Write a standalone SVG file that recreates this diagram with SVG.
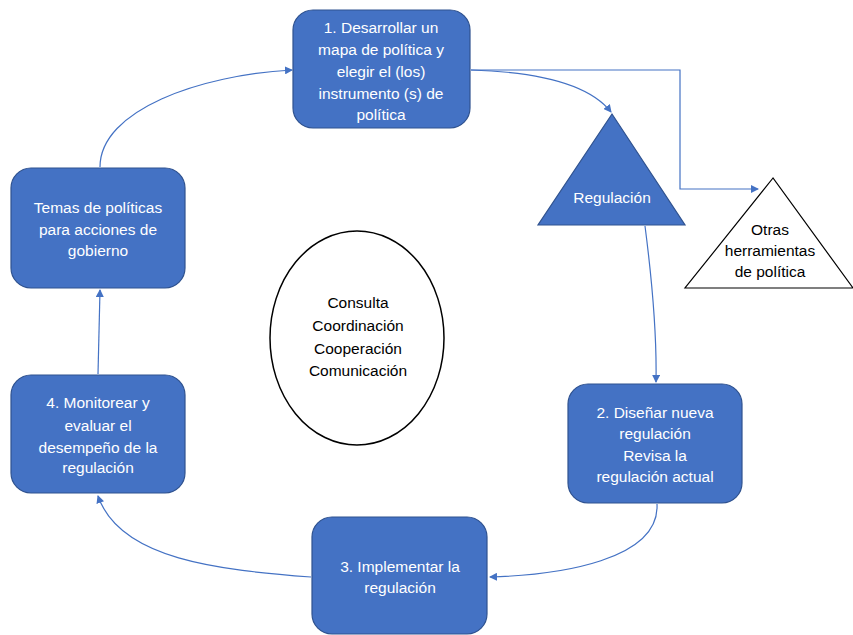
<svg xmlns="http://www.w3.org/2000/svg" width="853" height="635" viewBox="0 0 853 635">
<defs>
<style>
.box{fill:#4472C4;stroke:#2F528F;stroke-width:1.2}
.tw{fill:#fff;font-family:"Liberation Sans",Arial,sans-serif;font-size:15.5px;text-anchor:middle}
.tb{fill:#000;font-family:"Liberation Sans",Arial,sans-serif;font-size:15.5px;text-anchor:middle}
.con{fill:none;stroke:#4472C4;stroke-width:1.2}
</style>
<marker id="ah" markerWidth="8" markerHeight="8" refX="7" refY="4" orient="auto" markerUnits="userSpaceOnUse">
<path d="M0,0 L8,4 L0,8 z" fill="#4472C4"/>
</marker>
</defs>
<rect width="853" height="635" fill="#fff"/>
<g id="connectors">
<path class="con" d="M471,70 C540,72 590,85 611,112" marker-end="url(#ah)"/>
<path class="con" d="M471,70 L680,70 L680,189 L758,189" marker-end="url(#ah)"/>
<path class="con" d="M645,226 C652,280 657,330 656,382" marker-end="url(#ah)"/>
<path class="con" d="M657,504 C660,560 560,575 490,577" marker-end="url(#ah)"/>
<path class="con" d="M311,577 C220,570 120,560 98,496" marker-end="url(#ah)"/>
<path class="con" d="M98,374 L100,290" marker-end="url(#ah)"/>
<path class="con" d="M100,167 C100,110 200,75 292,70" marker-end="url(#ah)"/>
</g>
<g id="n1">
<rect class="box" x="293" y="10" width="177" height="118" rx="20"/>
<text class="tw" x="381" y="33">1. Desarrollar un</text>
<text class="tw" x="381" y="55">mapa de política y</text>
<text class="tw" x="381" y="77">elegir el (los)</text>
<text class="tw" x="381" y="99">instrumento  (s) de</text>
<text class="tw" x="381" y="120">política</text>
</g>
<g id="regulacion">
<polygon class="box" points="612,114 538,225 685,225"/>
<text class="tw" x="612" y="203">Regulación</text>
</g>
<g id="otras">
<polygon points="773,178 685,288 853,288" fill="#fff" stroke="#000" stroke-width="1.2"/>
<text class="tb" x="770" y="235">Otras</text>
<text class="tb" x="770" y="256">herramientas</text>
<text class="tb" x="770" y="277">de política</text>
</g>
<g id="n2">
<rect class="box" x="568" y="384" width="174" height="119" rx="20"/>
<text class="tw" x="655" y="418">2. Diseñar nueva</text>
<text class="tw" x="655" y="439">regulación</text>
<text class="tw" x="655" y="461">Revisa la</text>
<text class="tw" x="655" y="482">regulación  actual</text>
</g>
<g id="n3">
<rect class="box" x="312" y="517" width="175" height="117" rx="20"/>
<text class="tw" x="400" y="572">3. Implementar  la</text>
<text class="tw" x="400" y="593">regulación</text>
</g>
<g id="n4">
<rect class="box" x="11" y="375" width="174" height="118" rx="20"/>
<text class="tw" x="98" y="408">4. Monitorear y</text>
<text class="tw" x="98" y="431">evaluar  el</text>
<text class="tw" x="98" y="453">desempeño de la</text>
<text class="tw" x="98" y="473">regulación</text>
</g>
<g id="temas">
<rect class="box" x="11" y="168" width="174" height="120" rx="20"/>
<text class="tw" x="98" y="213">Temas de políticas</text>
<text class="tw" x="98" y="235">para acciones  de</text>
<text class="tw" x="98" y="256">gobierno</text>
</g>
<g id="centro">
<ellipse cx="357" cy="338" rx="87" ry="107" fill="#fff" stroke="#000" stroke-width="1.5"/>
<text class="tb" x="358" y="308">Consulta</text>
<text class="tb" x="358" y="331">Coordinación</text>
<text class="tb" x="358" y="354">Cooperación</text>
<text class="tb" x="358" y="376">Comunicación</text>
</g>
</svg>
